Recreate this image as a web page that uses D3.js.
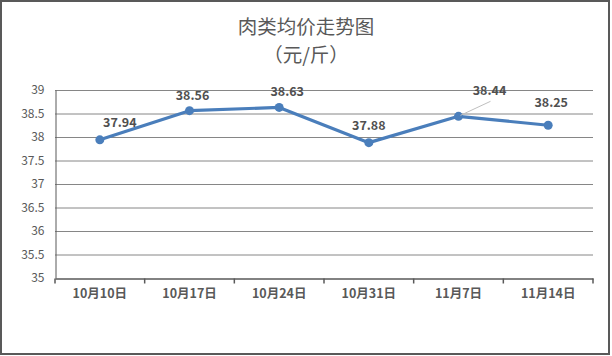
<!DOCTYPE html>
<html><head><meta charset="utf-8">
<script src="https://cdn.jsdelivr.net/npm/d3@7"></script>
<style>body{margin:0;background:#fff}svg{display:block}</style>
</head><body>
<svg id="c" width="612" height="356"></svg>
<script>
const categories = ["10月10日","10月17日","10月24日","10月31日","11月7日","11月14日"];
const values = [37.94, 38.56, 38.63, 37.88, 38.44, 38.25];
const yTicks = [35, 35.5, 36, 36.5, 37, 37.5, 38, 38.5, 39];
const title = ["肉类均价走势图", "（元/斤）"];

const svg = d3.select("#c");
const font = "'Microsoft YaHei','Noto Sans CJK SC',sans-serif";
svg.append("rect").attr("x",1).attr("y",1).attr("width",608).attr("height",353)
  .attr("fill","#fff").attr("stroke","#595959").attr("stroke-width",2);

const m = {l:55, r:593, t:90, b:278};
const x = d3.scaleBand().domain(categories).range([m.l, m.r]);
const y = d3.scaleLinear().domain([35, 39]).range([m.b, m.t]);

// gridlines
svg.append("g").selectAll("line").data(yTicks.slice(1)).join("line")
  .attr("x1", m.l).attr("x2", m.r).attr("y1", d=>y(d)+0.5).attr("y2", d=>y(d)+0.5)
  .attr("stroke","#868686").attr("stroke-width",1);

// y axis
const ya = svg.append("g").attr("transform",`translate(${m.l+0.5},0)`)
  .call(d3.axisLeft(y).tickValues(yTicks).tickSize(0).tickPadding(11).tickFormat(d=>d));
ya.select(".domain").attr("stroke","#595959");
ya.selectAll("text").attr("fill","#595959").style("font-family",font).style("font-size","12px");

// x axis
const xa = svg.append("g").attr("transform",`translate(0,${m.b+0.5})`)
  .call(d3.axisBottom(x).tickSize(0).tickPadding(11));
xa.select(".domain").attr("stroke","#595959").attr("stroke-width",1.5);
xa.selectAll("text").attr("fill","#595959").style("font-family",font).style("font-size","12.5px").style("font-weight","bold");
const edges = categories.map(c=>x(c)).concat([m.r]);
xa.selectAll(".tk").data(edges).join("line").attr("class","tk")
  .attr("x1",d=>d).attr("x2",d=>d).attr("y1",0).attr("y2",5).attr("stroke","#595959").attr("stroke-width",1.5);

// title
svg.append("g").selectAll("text").data(title).join("text")
  .attr("x",306).attr("y",(d,i)=>34 + i*28).attr("text-anchor","middle")
  .attr("fill","#595959").style("font-family",font).style("font-size","19.5px").text(d=>d);

// line
const cx = d=>x(d)+x.bandwidth()/2;
const pts = categories.map((c,i)=>[cx(c), y(values[i])]);
svg.append("path").datum(pts).attr("d", d3.line())
  .attr("fill","none").attr("stroke","#4a7ebb").attr("stroke-width",3.2).attr("stroke-linejoin","round");
svg.append("g").selectAll("circle").data(pts).join("circle")
  .attr("cx",d=>d[0]).attr("cy",d=>d[1]).attr("r",4.5).attr("fill","#4a7ebb");

// data labels
const offs = [[20,-13],[3,-11],[8,-11],[0,-13],[31,-21],[3,-18]];
// leader line for 38.44
const li = 4;
svg.append("line").attr("x1",pts[li][0]+2).attr("y1",pts[li][1]-1).attr("x2",pts[li][0]+32).attr("y2",pts[li][1]-15)
  .attr("stroke","#bfbfbf").attr("stroke-width",1);
svg.append("g").selectAll("text").data(values).join("text")
  .attr("x",(d,i)=>pts[i][0]+offs[i][0]).attr("y",(d,i)=>pts[i][1]+offs[i][1])
  .attr("text-anchor","middle").attr("fill","#505050")
  .style("font-family",font).style("font-size","12.5px").style("font-weight","bold")
  .text(d=>d.toFixed(2));
</script>
</body></html>
